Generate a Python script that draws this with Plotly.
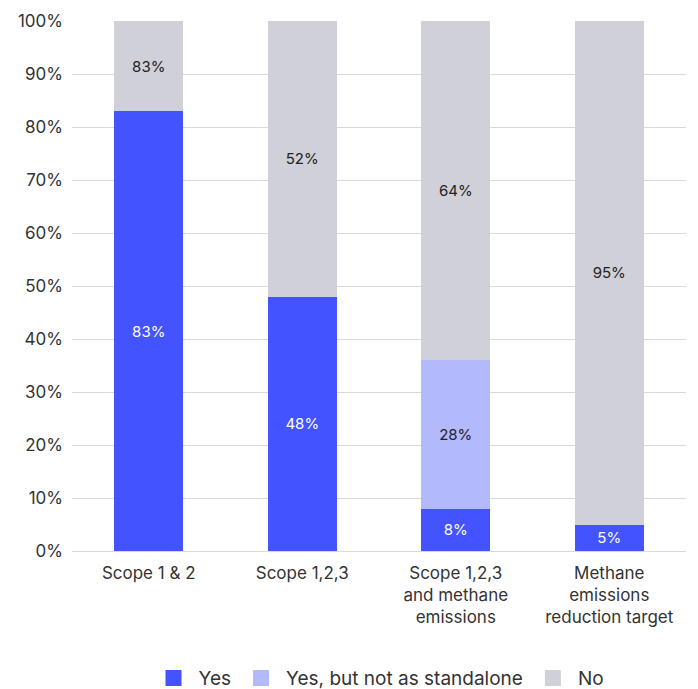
import plotly.graph_objects as go

categories = ["Scope 1 & 2", "Scope 1,2,3", "Scope 1,2,3<br>and methane<br>emissions",
              "Methane<br>emissions<br>reduction target"]
yes = [83, 48, 8, 5]
yes_not_standalone = [0, 0, 28, 0]
no = [17, 52, 64, 95]

yes_labels = ["83%", "48%", "8%", "5%"]
partial_labels = ["", "", "28%", ""]
no_labels = ["83%", "52%", "64%", "95%"]

tick_vals = [0, 10, 20, 30, 40, 50, 60, 70, 80, 90, 100]
tick_text = [f"{v}%" for v in tick_vals]

series = [
    ("Yes", yes, yes_labels, "#4353ff", "white"),
    ("Yes, but not as standalone", yes_not_standalone, partial_labels, "#b3b9fd", "#222222"),
    ("No", no, no_labels, "#d0d0d8", "#222222"),
]

FONT = "Inter, Roboto, sans-serif"
TEXT = "#333333"

fig = go.Figure()
for name, vals, labels, color, txt_color in series:
    fig.add_bar(x=categories, y=vals, name=name, marker_color=color,
                text=labels, textposition="inside", insidetextanchor="middle",
                textfont=dict(color=txt_color, size=15), texttemplate="%{text}",
                marker_line_width=0, hoverinfo="skip", showlegend=False,
                legendgroup=name)

# Legend entries with larger square swatches
for name, vals, labels, color, txt_color in series:
    fig.add_scatter(x=[None], y=[None], mode="markers", name=name,
                    marker=dict(symbol="square", size=18, color=color),
                    legendgroup=name, showlegend=True, hoverinfo="skip")

fig.update_layout(
    barmode="stack",
    bargap=0.55,
    width=698, height=689,
    margin=dict(l=72, r=12, t=21, b=138, autoexpand=False),
    paper_bgcolor="white", plot_bgcolor="white",
    font=dict(family=FONT, size=17, color=TEXT),
    uniformtext=dict(mode="show", minsize=15),
    legend=dict(orientation="h", x=0.5, xanchor="center", y=-0.24, yanchor="middle",
                font=dict(size=19, color=TEXT), traceorder="normal",
                itemwidth=40, itemsizing="trace", itemclick=False),
    xaxis=dict(showline=False, ticks="", tickfont=dict(size=17, color=TEXT),
               ticklabelstandoff=10, automargin=False, fixedrange=True),
    yaxis=dict(range=[0, 100], tickvals=tick_vals, ticktext=tick_text,
               showgrid=True, gridcolor="#d9d9d9", gridwidth=1,
               zeroline=True, zerolinecolor="#d9d9d9", zerolinewidth=1,
               ticks="", ticklabelstandoff=8, automargin=False,
               tickfont=dict(size=17, color=TEXT), fixedrange=True),
)

fig.write_html("out.html")
